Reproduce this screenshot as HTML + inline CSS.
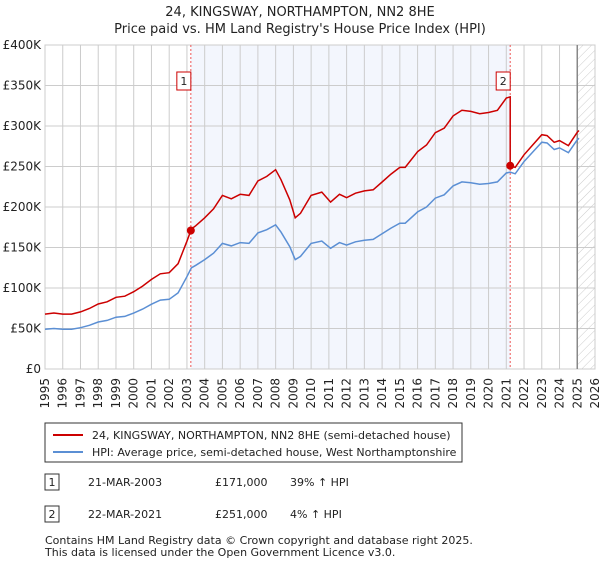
<!DOCTYPE html>
<html><head><meta charset="utf-8"><style>
body{margin:0;background:#fff;font-family:"Liberation Sans","DejaVu Sans",sans-serif}
svg text{font-family:"DejaVu Sans","Liberation Sans",sans-serif;fill:#222}
</style></head><body>
<svg width="600" height="560" viewBox="0 0 600 560">
<defs><pattern id="hatch" width="6" height="6" patternUnits="userSpaceOnUse" patternTransform="rotate(45)"><line x1="0" y1="0" x2="0" y2="6" stroke="#ccc" stroke-width="1"/></pattern></defs>
<text x="300" y="16" text-anchor="middle" font-size="13">24, KINGSWAY, NORTHAMPTON, NN2 8HE</text>
<text x="300" y="33" text-anchor="middle" font-size="13">Price paid vs. HM Land Registry's House Price Index (HPI)</text>
<g id="plot"></g>
<g>
<rect x="45" y="423" width="417" height="39" fill="#fff" stroke="#333"/>
<line x1="53" y1="435" x2="83" y2="435" stroke="#cc0000" stroke-width="2"/>
<text x="92" y="439" font-size="11">24, KINGSWAY, NORTHAMPTON, NN2 8HE (semi-detached house)</text>
<line x1="53" y1="452" x2="83" y2="452" stroke="#5b8fd4" stroke-width="2"/>
<text x="92" y="456" font-size="11">HPI: Average price, semi-detached house, West Northamptonshire</text>
</g>
<g>
<rect x="45" y="474" width="14" height="16" fill="#fff" stroke="#333"/><text x="52" y="486" font-size="11" text-anchor="middle">1</text>
<text x="88" y="486" font-size="11">21-MAR-2003</text><text x="215" y="486" font-size="11">£171,000</text><text x="290" y="486" font-size="11">39% ↑ HPI</text>
<rect x="45" y="506" width="14" height="16" fill="#fff" stroke="#333"/><text x="52" y="518" font-size="11" text-anchor="middle">2</text>
<text x="88" y="518" font-size="11">22-MAR-2021</text><text x="215" y="518" font-size="11">£251,000</text><text x="290" y="518" font-size="11">4% ↑ HPI</text>
</g>
<text x="45" y="544" font-size="11">Contains HM Land Registry data © Crown copyright and database right 2025.</text>
<text x="45" y="556" font-size="11">This data is licensed under the Open Government Licence v3.0.</text>
</svg>
<script>
const years=[1995,1995.5,1996,1996.5,1997,1997.5,1998,1998.5,1999,1999.5,2000,2000.5,2001,2001.5,2002,2002.5,2002.75,2003,2003.25,2003.5,2004,2004.5,2005,2005.5,2006,2006.5,2007,2007.5,2008,2008.3,2008.8,2009.1,2009.4,2010,2010.6,2011.1,2011.6,2012,2012.5,2013,2013.5,2014,2014.5,2015,2015.3,2016,2016.5,2017,2017.5,2018,2018.5,2019,2019.5,2020,2020.5,2021,2021.22,2021.5,2022,2022.5,2023,2023.3,2023.7,2024,2024.5,2025,2025.1];
const hpi=[49,50,49,49,51,54,58,60,64,65,69,74,80,85,86,94,104,114,125,128,135,143,155,152,156,155,168,172,178,169,151,135,139,155,158,149,156,153,157,159,160,167,174,180,180,194,200,211,215,226,231,230,228,229,231,242,243,241,256,268,280,279,271,273,267,283,285];
const saleDates=[2003.22,2021.22];
const salePrices=[171,251];
const yTicks=[0,50,100,150,200,250,300,350,400];
const yTickLabels=["£0","£50K","£100K","£150K","£200K","£250K","£300K","£350K","£400K"];
const xTicks=[1995,1996,1997,1998,1999,2000,2001,2002,2003,2004,2005,2006,2007,2008,2009,2010,2011,2012,2013,2014,2015,2016,2017,2018,2019,2020,2021,2022,2023,2024,2025,2026];
const X0=45,X1=595,Y0=369,Y1=45;
const sx=y=>X0+(y-1995)/(2026-1995)*(X1-X0);
const sy=v=>Y0-v/400*(Y0-Y1);
const NS="http://www.w3.org/2000/svg";
const g=document.getElementById('plot');
function mk(t,a,p){const e=document.createElementNS(NS,t);for(const k in a)e.setAttribute(k,a[k]);(p||g).appendChild(e);return e;}
function hpiAt(t){for(let i=1;i<years.length;i++){if(t<=years[i]){const f=(t-years[i-1])/(years[i]-years[i-1]);return hpi[i-1]+f*(hpi[i]-hpi[i-1]);}}return hpi[hpi.length-1];}
let r=mk('rect',{x:sx(saleDates[0]),y:Y1,width:sx(saleDates[1])-sx(saleDates[0]),height:Y0-Y1,fill:'#f3f6fd'});


r=mk('rect',{x:sx(2025),y:Y1,width:X1-sx(2025),height:Y0-Y1,fill:'url(#hatch)'});


yTicks.forEach((v,i)=>{mk('line',{x1:X0,x2:X1,y1:sy(v),y2:sy(v),stroke:'#ccc'});
const t=mk('text',{x:X0-4,y:sy(v)+4,'text-anchor':'end','font-size':12});t.textContent=yTickLabels[i];

});
xTicks.forEach(y=>{mk('line',{x1:sx(y),x2:sx(y),y1:Y1,y2:Y0,stroke:'#ccc'});
const t=mk('text',{x:0,y:0,'text-anchor':'end','font-size':12,transform:`translate(${sx(y)+4},${Y0+9}) rotate(-90)`});t.textContent=y;

});
mk('rect',{x:X0,y:Y1,width:X1-X0,height:Y0-Y1,fill:'none',stroke:'#ccc'});
mk('line',{x1:sx(2025),x2:sx(2025),y1:Y1,y2:Y0,stroke:'#888','stroke-width':1.5});
saleDates.forEach((d,i)=>{const l=mk('line',{x1:sx(d),x2:sx(d),y1:Y1,y2:Y0,stroke:'#e55','stroke-dasharray':'2,2'});

});
let bp=years.map((y,i)=>(i?'L':'M')+sx(y).toFixed(1)+','+sy(hpi[i]).toFixed(1)).join('');
let p=mk('path',{d:bp,fill:'none',stroke:'#5b8fd4','stroke-width':1.5});


const r1=salePrices[0]/hpiAt(saleDates[0]), r2=salePrices[1]/hpiAt(saleDates[1]);
let pts=[];
years.forEach((y,i)=>{ if(y<saleDates[1]) pts.push([y,hpi[i]*r1]); });
pts.push([saleDates[1],hpiAt(saleDates[1])*r1]);
pts.push([saleDates[1],salePrices[1]]);
years.forEach((y,i)=>{ if(y>saleDates[1]) pts.push([y,hpi[i]*r2]); });
let rp=pts.map((q,i)=>(i?'L':'M')+sx(q[0]).toFixed(1)+','+sy(q[1]).toFixed(1)).join('');
p=mk('path',{d:rp,fill:'none',stroke:'#cc0000','stroke-width':1.5});


saleDates.forEach((d,i)=>{const c=mk('circle',{cx:sx(d),cy:sy(salePrices[i]),r:4,fill:'#cc0000'});


const bx=sx(d)-8;const b=mk('rect',{x:bx-6,y:72,width:14,height:18,fill:'#fff',stroke:'#cc0000'});


const t=mk('text',{x:bx+1,y:85,'text-anchor':'middle','font-size':11});t.textContent=String(i+1);

});
</script>
</body></html>
